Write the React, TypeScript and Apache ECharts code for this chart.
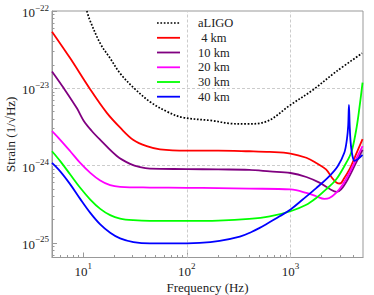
import React, { useEffect, useRef } from 'react';
import * as echarts from 'echarts';

// ---- axis ranges / ticks ----
const X_RANGE = [5, 5000];
const Y_RANGE = [6.45e-26, 1e-22];
const X_MAJOR = [10, 100, 1000];
const Y_MAJOR = [1e-25, 1e-24, 1e-23, 1e-22];
const X_GRID = [100, 1000];
const Y_GRID = [1e-24, 1e-23];

const X_TITLE = 'Frequency (Hz)';
const Y_TITLE = 'Strain (1/\u221AHz)';

// ---- legend ----
const NAMES = ['aLIGO', ' 4 km', '10 km', '20 km', '30 km', '40 km'];
const COLORS = ['#000000', '#ff0000', '#800080', '#ff00ff', '#00ff00', '#0000ff'];

// ---- data (frequency Hz, strain 1/sqrt(Hz)) ----
const aligoFreq = [10.85, 11.5, 14.6, 18.2, 22.7, 31, 44, 64, 90, 178, 260, 375, 583, 1000, 1640, 2750, 4900];
const aligoStrain = [1.0e-22, 7.8e-23, 3.8e-23, 2.44e-23, 1.56e-23, 1.0e-23, 6.7e-24, 5.0e-24, 4.2e-24, 3.8e-24, 3.5e-24, 3.45e-24, 3.7e-24, 6.1e-24, 9.5e-24, 1.64e-23, 2.84e-23];

const km4Freq = [5, 7.5, 11.5, 16.9, 23, 30.5, 41, 55, 100, 200, 400, 630, 1000, 1420, 1770, 2200, 2520, 2790, 3000, 3300, 3700, 4280, 4950];
const km4Strain = [5.4e-23, 2.44e-23, 1.0e-23, 4.8e-24, 3.04e-24, 2.14e-24, 1.78e-24, 1.62e-24, 1.56e-24, 1.56e-24, 1.53e-24, 1.5e-24, 1.43e-24, 1.26e-24, 1.08e-24, 8.9e-25, 6.9e-25, 5.97e-25, 5.85e-25, 6.9e-25, 8.9e-25, 1.39e-24, 2.2e-24];

const km10Freq = [5, 6.5, 8.7, 10.1, 12.1, 14.6, 21.1, 28.3, 35.4, 44, 100, 200, 400, 630, 1000, 1420, 1900, 2370, 2790, 3070, 3560, 4280, 4950];
const km10Strain = [1.65e-23, 1.0e-23, 5.5e-24, 3.8e-24, 2.8e-24, 2.15e-24, 1.33e-24, 1.05e-24, 9.5e-25, 9.1e-25, 9.0e-25, 8.9e-25, 8.8e-25, 8.4e-25, 8.0e-25, 7.1e-25, 6.0e-25, 5.0e-25, 4.56e-25, 4.9e-25, 6.6e-25, 1.08e-24, 1.6e-24];

const km20Freq = [5, 6, 7.5, 9.35, 11.7, 14.6, 18.2, 22.7, 44, 100, 200, 400, 1000, 1420, 1770, 2120, 2370, 2750, 3190, 3690, 4280, 4950];
const km20Strain = [2.78e-24, 2.15e-24, 1.53e-24, 1.08e-24, 8.05e-25, 6.4e-25, 5.56e-25, 5.3e-25, 5.19e-25, 5.15e-25, 5.1e-25, 5.03e-25, 4.9e-25, 4.43e-25, 4.0e-25, 3.7e-25, 3.8e-25, 4.43e-25, 5.7e-25, 8.0e-25, 1.2e-24, 1.78e-24];

const km30Freq = [5, 6, 7.5, 9.35, 11.7, 14.6, 18.2, 22.7, 30.5, 44, 100, 200, 400, 630, 1000, 1420, 1770, 2200, 2750, 3300, 3840, 4280, 4620, 4950];
const km30Strain = [1.53e-24, 1.14e-24, 7.65e-25, 5.15e-25, 3.63e-25, 2.75e-25, 2.28e-25, 2.06e-25, 1.96e-25, 1.92e-25, 1.92e-25, 1.94e-25, 2.04e-25, 2.2e-25, 2.56e-25, 3.1e-25, 3.8e-25, 4.9e-25, 6.6e-25, 9.8e-25, 1.46e-24, 2.8e-24, 5.6e-24, 1.18e-23];

const km40Freq = [5, 6, 7.5, 9.35, 11.7, 14.6, 18.2, 22.7, 30.5, 44, 74, 133, 207, 324, 420, 504, 583, 784, 1000, 1310, 1770, 2370, 2850, 3300, 3500, 3600, 3660, 3720, 3800, 3950, 4150, 4500, 4950];
const km40Strain = [1.08e-24, 8.4e-25, 5.7e-25, 3.7e-25, 2.44e-25, 1.73e-25, 1.35e-25, 1.14e-25, 1.02e-25, 9.8e-26, 9.8e-26, 1.0e-25, 1.06e-25, 1.2e-25, 1.38e-25, 1.56e-25, 1.74e-25, 2.2e-25, 2.7e-25, 3.63e-25, 5.1e-25, 7.3e-25, 9.8e-25, 1.46e-24, 2.2e-24, 3.3e-24, 6.1e-24, 3.3e-24, 2.0e-24, 1.35e-24, 1.15e-24, 1.22e-24, 1.37e-24];

const SERIES_FREQ = [aligoFreq, km4Freq, km10Freq, km20Freq, km30Freq, km40Freq];
const SERIES_STRAIN = [aligoStrain, km4Strain, km10Strain, km20Strain, km30Strain, km40Strain];

const lg = (v: number) => Math.log10(v);
const SERIF = 'Liberation Serif';
const TEXT = '#222222';
const FRAME = '#999999';

function expLabel(v: number) {
  const e = Math.round(v);
  return `{b|10}{s|${e < 0 ? '\u2212' + -e : e}}`;
}

const rich = {
  b: { fontSize: 13, fontFamily: SERIF, color: TEXT, lineHeight: 16, verticalAlign: 'bottom' },
  s: { fontSize: 9, fontFamily: SERIF, color: TEXT, lineHeight: 10, verticalAlign: 'top' },
};

function minorTicks(lo: number, hi: number) {
  const out: number[] = [];
  for (let n = Math.floor(lg(lo)); n <= Math.ceil(lg(hi)); n++) {
    for (let k = 2; k <= 9; k++) {
      const v = k * Math.pow(10, n);
      if (v > lo * 1.0001 && v < hi * 0.9999) out.push(lg(v));
    }
  }
  return out;
}

export default function App() {
  const ref = useRef<HTMLDivElement>(null);
  useEffect(() => {
    if (!ref.current) return;
    const chart = echarts.init(ref.current, undefined, { renderer: 'svg' });
    const xMin = lg(X_RANGE[0]);
    const xMax = lg(X_RANGE[1]);
    const yMin = lg(Y_RANGE[0]);
    const yMax = lg(Y_RANGE[1]);

    const legendRows = [23, 37.8, 52.5, 67.3, 82, 96.7];
    const graphic: any[] = [];
    NAMES.forEach((name, i) => {
      const y = legendRows[i];
      graphic.push({
        type: 'line',
        shape: { x1: 157, y1: y, x2: 180, y2: y },
        style: {
          stroke: COLORS[i],
          lineWidth: i === 0 ? 1.7 : 1.8,
          lineDash: i === 0 ? [1.7, 1.7] : null,
        },
      });
      graphic.push({
        type: 'text',
        x: 198,
        y: y,
        style: {
          text: name,
          fill: TEXT,
          fontSize: 12.5,
          fontFamily: SERIF,
          verticalAlign: 'middle',
          align: 'left',
        },
      });
    });

    const series: any[] = NAMES.map((name, i) => ({
      name,
      type: 'line',
      xAxisIndex: 0,
      yAxisIndex: 0,
      data: SERIES_FREQ[i].map((f, j) => [lg(f), lg(SERIES_STRAIN[i][j])]),
      symbol: 'none',
      showSymbol: false,
      smooth: 0.35,
      clip: true,
      lineStyle: {
        color: COLORS[i],
        width: i === 0 ? 1.7 : 1.8,
        type: i === 0 ? [1.7, 1.7] : 'solid',
      },
      silent: true,
      z: 2 + i,
    }));
    series[0].markLine = {
      silent: true,
      symbol: 'none',
      z: 1,
      label: { show: false },
      lineStyle: { color: '#cccccc', width: 1, type: [3, 2] },
      data: [
        ...X_GRID.map((v) => ({ xAxis: lg(v) })),
        ...Y_GRID.map((v) => ({ yAxis: lg(v) })),
      ],
    };

    const option: any = {
      animation: false,
      textStyle: { fontFamily: SERIF },
      grid: {
        left: 52,
        right: 11,
        top: 11,
        bottom: 37.5,
        show: true,
        borderColor: FRAME,
        borderWidth: 1,
        outerBoundsMode: 'none',
      },
      xAxis: [
        {
          type: 'value',
          min: xMin,
          max: xMax,
          position: 'bottom',
          axisLine: { show: true, lineStyle: { color: FRAME, width: 1 } },
          axisTick: { show: true, inside: true, length: 5, customValues: X_MAJOR.map(lg), lineStyle: { color: FRAME } },
          axisLabel: { show: true, customValues: X_MAJOR.map(lg), formatter: expLabel, rich, margin: 4, fontFamily: SERIF },
          splitLine: { show: false },
          name: X_TITLE,
          nameLocation: 'middle',
          nameGap: 23,
          nameMoveOverlap: false,
          nameTextStyle: { fontFamily: SERIF, fontSize: 13, color: TEXT },
        },
        {
          type: 'value',
          min: xMin,
          max: xMax,
          position: 'bottom',
          offset: 0,
          axisLine: { show: false },
          axisTick: { show: true, inside: true, length: 2.5, customValues: minorTicks(X_RANGE[0], X_RANGE[1]), lineStyle: { color: FRAME } },
          axisLabel: { show: false },
          splitLine: { show: false },
        },
      ],
      yAxis: [
        {
          type: 'value',
          min: yMin,
          max: yMax,
          position: 'left',
          axisLine: { show: true, lineStyle: { color: FRAME, width: 1 } },
          axisTick: { show: true, inside: true, length: 5, customValues: Y_MAJOR.map(lg), lineStyle: { color: FRAME } },
          axisLabel: { show: true, customValues: Y_MAJOR.map(lg), formatter: expLabel, rich, margin: 3, fontFamily: SERIF },
          splitLine: { show: false },
          name: Y_TITLE,
          nameLocation: 'middle',
          nameRotate: 90,
          nameGap: 35,
          nameMoveOverlap: false,
          nameTextStyle: { fontFamily: SERIF, fontSize: 13, color: TEXT },
        },
        {
          type: 'value',
          min: yMin,
          max: yMax,
          position: 'left',
          offset: 0,
          axisLine: { show: false },
          axisTick: { show: true, inside: true, length: 2.5, customValues: minorTicks(Y_RANGE[0], Y_RANGE[1]), lineStyle: { color: FRAME } },
          axisLabel: { show: false },
          splitLine: { show: false },
        },
      ],
      series,
      graphic,
    };
    chart.setOption(option);
    return () => chart.dispose();
  }, []);
  return (
    <div
      ref={ref}
      style={{ position: 'absolute', left: 0, top: 0, width: 374, height: 295 }}
    />
  );
}
